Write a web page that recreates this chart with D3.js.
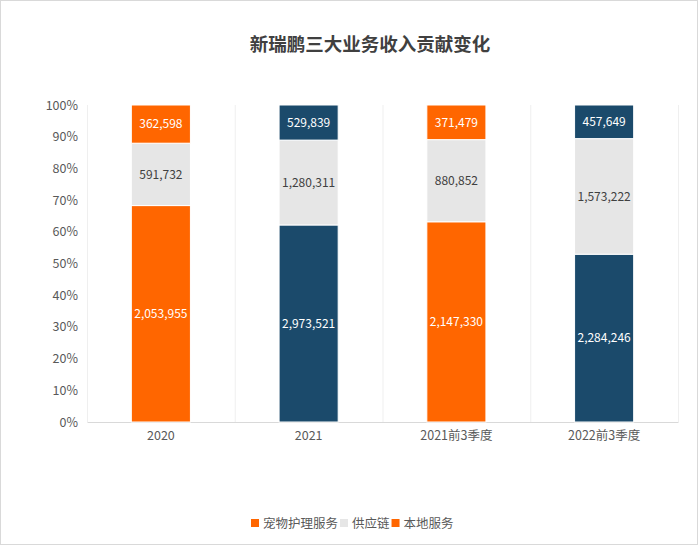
<!DOCTYPE html>
<html><head><meta charset="utf-8">
<script src="https://cdn.jsdelivr.net/npm/d3@7"></script>
<style>
html,body{margin:0;padding:0;background:#fff;}
svg{display:block;font-family:"Noto Sans CJK SC","Noto Sans",sans-serif;}
</style></head>
<body>
<svg id="c" width="700" height="553"></svg>
<script>
const title = "新瑞鹏三大业务收入贡献变化";
const categories = ["2020", "2021", "2021前3季度", "2022前3季度"];
const seriesNames = ["宠物护理服务", "供应链", "本地服务"];
const petCare = [2053955, 2973521, 2147330, 2284246];
const supplyChain = [591732, 1280311, 880852, 1573222];
const localService = [362598, 529839, 371479, 457649];
const yTicks = [0, 0.1, 0.2, 0.3, 0.4, 0.5, 0.6, 0.7, 0.8, 0.9, 1.0];

const ORANGE = "#ff6600", BLUE = "#1b4a6b", GREY = "#e6e6e6";
const pointColors = [ORANGE, BLUE, ORANGE, BLUE];

const svg = d3.select("#c");
const m = {left: 87, right: 678, top: 105, bottom: 422};
const FONT = "'Noto Sans CJK SC','Noto Sans',sans-serif";

// frame
svg.append("rect").attr("x", 0.5).attr("y", 0.5).attr("width", 697).attr("height", 544)
  .attr("fill", "#fff").attr("stroke", "#d9d9d9");

const xb = d3.scaleBand().domain(categories).range([m.left, m.right]);
const y = d3.scaleLinear().domain([0, 1]).range([m.bottom, m.top]);

// vertical grid lines at band boundaries
const bounds = categories.map(c => xb(c)).concat([m.right]);
svg.append("g").selectAll("line").data(bounds).join("line")
  .attr("x1", d => d + 0.5).attr("x2", d => d + 0.5).attr("y1", m.top).attr("y2", m.bottom)
  .attr("stroke", "#efefef").attr("stroke-width", 1);

// y axis
const yAxis = d3.axisLeft(y).tickValues(yTicks).tickFormat(d3.format(".0%")).tickSize(0).tickPadding(9);
const ya = svg.append("g").attr("transform", `translate(${m.left},0)`).call(yAxis);
ya.select(".domain").remove();
ya.selectAll("text").attr("font-size", 12.5).attr("fill", "#595959").attr("font-family", FONT);

// x axis
const xAxis = d3.axisBottom(xb).tickSize(0).tickPadding(9);
const xa = svg.append("g").attr("transform", `translate(0,${m.bottom})`).call(xAxis);
xa.select(".domain").attr("stroke", "#d9d9d9");
xa.selectAll("text").attr("font-size", 12.5).attr("fill", "#595959").attr("font-family", FONT);

// stack
const rows = categories.map((c, i) => ({cat: c, idx: i, s0: petCare[i], s1: supplyChain[i], s2: localService[i]}));
const stack = d3.stack().keys(["s0", "s1", "s2"]).offset(d3.stackOffsetExpand);
const layers = stack(rows);
const bw = xb.bandwidth() * 0.4;

layers.forEach((layer, li) => {
  const g = svg.append("g");
  g.selectAll("rect").data(layer).join("rect")
    .attr("x", d => xb(d.data.cat) + (xb.bandwidth() - bw) / 2)
    .attr("width", bw)
    .attr("y", d => y(d[1]))
    .attr("height", d => y(d[0]) - y(d[1]))
    .attr("fill", d => li === 1 ? GREY : pointColors[d.data.idx])
    .attr("stroke", "#fff").attr("stroke-width", 1);
  g.selectAll("text").data(layer).join("text")
    .attr("x", d => xb(d.data.cat) + xb.bandwidth() / 2)
    .attr("y", d => (y(d[0]) + y(d[1])) / 2)
    .attr("dy", "0.36em")
    .attr("text-anchor", "middle")
    .attr("font-size", 12)
    .attr("fill", li === 1 ? "#404040" : "#ffffff")
    .text(d => d3.format(",")(d.data[layer.key]));
});

// title
svg.append("text").attr("x", 370).attr("y", 51).attr("text-anchor", "middle")
  .attr("font-size", 18.5).attr("font-weight", "bold").attr("fill", "#404040").text(title);

// legend
const legColors = [ORANGE, GREY, ORANGE];
const lg = svg.append("g").attr("transform", "translate(251,523)");
let lx = 0;
seriesNames.forEach((n, i) => {
  lg.append("rect").attr("x", lx).attr("y", -4).attr("width", 8).attr("height", 8).attr("fill", legColors[i]);
  const t = lg.append("text").attr("x", lx + 12).attr("y", 0).attr("dy", "0.36em")
    .attr("font-size", 12.5).attr("fill", "#595959").text(n);
  lx += 12 + t.node().getComputedTextLength() + 2;
});
</script>
</body></html>
